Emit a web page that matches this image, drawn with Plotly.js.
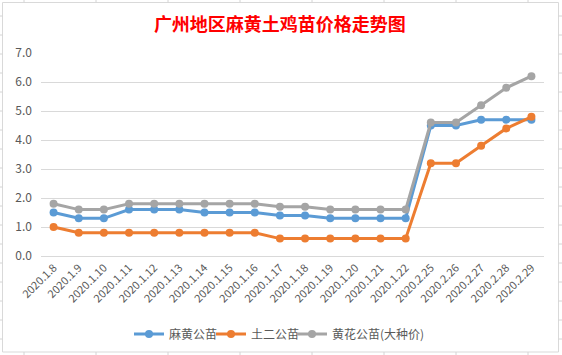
<!DOCTYPE html>
<html>
<head>
<meta charset="utf-8">
<script src="https://cdn.plot.ly/plotly-3.0.1.min.js"></script>
<style>
html,body{margin:0;padding:0;background:#fff;}
#chart{width:562px;height:355px;}
</style>
</head>
<body>
<div id="chart"></div>
<script>
const categories = ["2020.1.8","2020.1.9","2020.1.10","2020.1.11","2020.1.12","2020.1.13","2020.1.14","2020.1.15","2020.1.16","2020.1.17","2020.1.18","2020.1.19","2020.1.20","2020.1.21","2020.1.22","2020.2.25","2020.2.26","2020.2.27","2020.2.28","2020.2.29"];
const mahuang = [1.5,1.3,1.3,1.6,1.6,1.6,1.5,1.5,1.5,1.4,1.4,1.3,1.3,1.3,1.3,4.5,4.5,4.7,4.7,4.7];
const tuer = [1.0,0.8,0.8,0.8,0.8,0.8,0.8,0.8,0.8,0.6,0.6,0.6,0.6,0.6,0.6,3.2,3.2,3.8,4.4,4.8];
const huanghua = [1.8,1.6,1.6,1.8,1.8,1.8,1.8,1.8,1.8,1.7,1.7,1.6,1.6,1.6,1.6,4.6,4.6,5.2,5.8,6.2];
const seriesNames = ["麻黄公苗","土二公苗","黄花公苗(大种价)"];
const colors = ["#5B9BD5","#ED7D31","#A5A5A5"];
const yTicks = [0,1,2,3,4,5,6,7];

const W = 562, H = 355;
const M = {l:41, r:18, t:53, b:99};
const pw = W - M.l - M.r, ph = H - M.t - M.b;
const px = x => (x - M.l) / pw;
const py = y => (H - M.b - y) / ph;

const FONT = "'Noto Sans CJK SC', 'Noto Sans', sans-serif";
const grey = "#595959";
const legendIds = ['legend', 'legend2', 'legend3'];
const legendX = [129, 211, 292];

const traces = [mahuang, tuer, huanghua].map((vals, i) => ({
  type: 'scatter',
  mode: 'lines+markers',
  x: categories,
  y: vals,
  name: seriesNames[i],
  legend: legendIds[i],
  line: {color: colors[i], width: 3},
  marker: {color: colors[i], size: 8, symbol: 'circle'}
}));

// spreadsheet background gridlines + chart border
const sheet = "#D4D4D4";
const shapes = [];
shapes.push({type:'rect', xref:'paper', yref:'paper', x0:px(2.5), x1:px(558.5), y0:py(2.5), y1:py(352), line:{color:"#D9D9D9", width:1}, layer:'below'});
for (let c = 24; c < W; c += 72) {
  shapes.push({type:'line', xref:'paper', yref:'paper', x0:px(c), x1:px(c), y0:py(0), y1:py(2.5), line:{color:sheet, width:1}});
  shapes.push({type:'line', xref:'paper', yref:'paper', x0:px(c), x1:px(c), y0:py(352), y1:py(H), line:{color:sheet, width:1}});
}
for (let r = 16; r < H - 3; r += 19) {
  shapes.push({type:'line', xref:'paper', yref:'paper', x0:px(0), x1:px(2.5), y0:py(r), y1:py(r), line:{color:sheet, width:1}});
  shapes.push({type:'line', xref:'paper', yref:'paper', x0:px(558.5), x1:px(W), y0:py(r), y1:py(r), line:{color:sheet, width:1}});
}

const layout = {
  width: W, height: H,
  margin: M,
  paper_bgcolor: '#ffffff',
  plot_bgcolor: '#ffffff',
  font: {family: FONT, color: grey, size: 12},
  title: {
    text: '<b>广州地区麻黄土鸡苗价格走势图</b>',
    font: {family: FONT, size: 18, color: '#FF0000'},
    xref: 'container', x: 0.498, xanchor: 'center',
    yref: 'container', y: 1 - 25/H, yanchor: 'middle'
  },
  xaxis: {
    type: 'category',
    range: [-0.5, categories.length - 0.5],
    tickangle: -45,
    showgrid: false,
    showline: true, linecolor: '#D9D9D9', linewidth: 1,
    ticks: '',
    tickfont: {size: 11, color: grey, family: FONT},
    zeroline: false,
    fixedrange: true
  },
  yaxis: {
    range: [0, 7],
    tickvals: yTicks,
    ticktext: yTicks.map(v => v.toFixed(1)),
    showgrid: true, gridcolor: '#D9D9D9', gridwidth: 1,
    zeroline: false,
    showline: false,
    ticks: '',
    ticklabelstandoff: 8,
    tickfont: {size: 12, color: grey, family: FONT},
    fixedrange: true
  },
  showlegend: true,
  shapes: shapes
};
legendIds.forEach((id, i) => {
  layout[id] = {
    orientation: 'h',
    xref: 'container', x: legendX[i]/W, xanchor: 'left',
    yref: 'container', y: (H - 334)/H, yanchor: 'middle',
    font: {size: 12, color: grey, family: FONT},
    bgcolor: 'rgba(0,0,0,0)'
  };
});

Plotly.newPlot('chart', traces, layout, {displayModeBar: false, staticPlot: true});
</script>
</body>
</html>
